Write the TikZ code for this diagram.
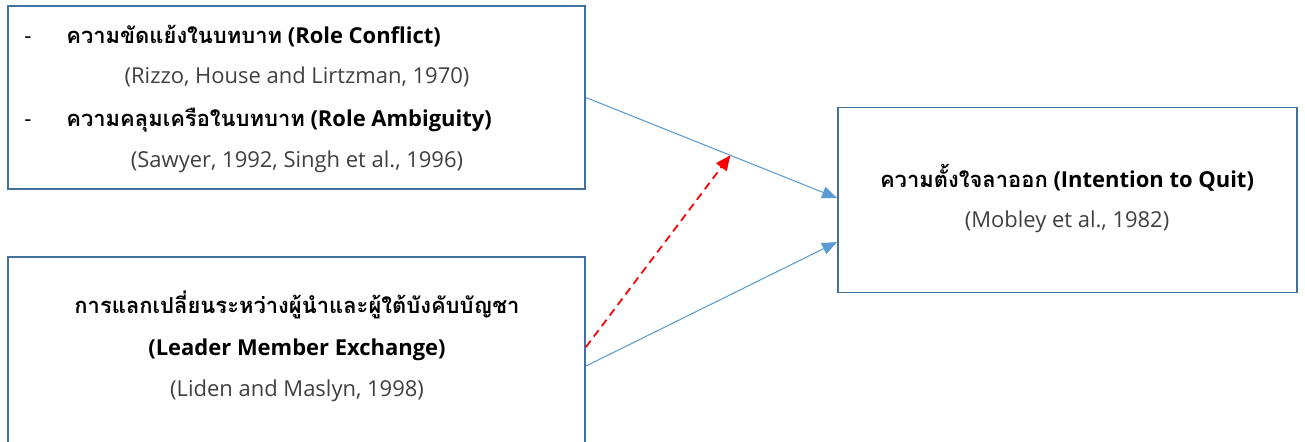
\documentclass[tikz,border=0pt]{standalone}
\usepackage{fontspec}
\setmainfont{Open Sans}
\newfontfamily\thaifont[Script=Thai]{Loma}
\usetikzlibrary{arrows.meta,positioning,calc}
\definecolor{boxblue}{HTML}{41719C}
\definecolor{arblue}{HTML}{5B9BD5}
\newcommand{\thtxt}[1]{{\thaifont #1}}

\begin{document}
\begin{tikzpicture}[x=0.02cm, y=-0.02cm,
  box/.style={draw=boxblue, line width=1.1pt, minimum width=11.54cm, minimum height=3.66cm, inner sep=0pt},
  hd/.style={font=\bfseries\fontsize{12.5}{16}\selectfont, inner sep=0pt},
  cite/.style={font=\fontsize{12.5}{16}\selectfont, text=black!75, anchor=base, inner sep=0pt},
  ar/.style={draw=arblue, line width=0.6pt, -{Triangle[length=3mm, width=2.4mm]}},
  mod/.style={draw=red, line width=1pt, dashed, dash pattern=on 4.5pt off 3pt, -{Triangle[length=3mm, width=2.6mm]}}
]
\useasboundingbox (0,0) rectangle (1305,441);
\clip (0,0) rectangle (1305,441);

% boxes
\node[box] (rs) at (296.5,97.5) {};
\node[box, minimum height=4.4cm] (lmx) at (296.5,367) {};
\node[box, minimum width=9.18cm, minimum height=3.7cm] (iq) at (1067.5,200) {};

% role stress
\node[cite, text=black] (d1) at (28,43) {-};
\node[hd, anchor=base west] (rc) at (66,43) {\thtxt{ความขัดแย้งในบทบาท} (Role Conflict)};
\node[cite] (rcc) at (297,83) {(Rizzo, House and Lirtzman, 1970)};
\node[cite, text=black] (d2) at (28,126) {-};
\node[hd, anchor=base west] (ra) at (66,126) {\thtxt{ความคลุมเครือในบทบาท} (Role Ambiguity)};
\node[cite] (rac) at (297,167) {(Sawyer, 1992, Singh et al., 1996)};

% leader member exchange
\node[hd, anchor=base] (lm) at (297,313) {\thtxt{การแลกเปลี่ยนระหว่างผู้นำและผู้ใต้บังคับบัญชา}};
\node[hd, anchor=base] (lme) at (297,355) {(Leader Member Exchange)};
\node[cite] (lmc) at (297,396) {(Liden and Maslyn, 1998)};

% intention to quit
\node[hd, anchor=base] (it) at (1067,187) {\thtxt{ความตั้งใจลาออก} (Intention to Quit)};
\node[cite] (itc) at (1067,227) {(Mobley et al., 1982)};

% paths
\draw[ar] (rs.east) -- coordinate[pos=0.575] (hit) ($(iq.west)+(0,-2)$);
\draw[ar] ($(lmx.north east)+(0,110)$) -- ($(iq.west)+(0,42)$);
\draw[mod] ($(lmx.north east)+(0,91)$) -- (hit);
\end{tikzpicture}
\end{document}
